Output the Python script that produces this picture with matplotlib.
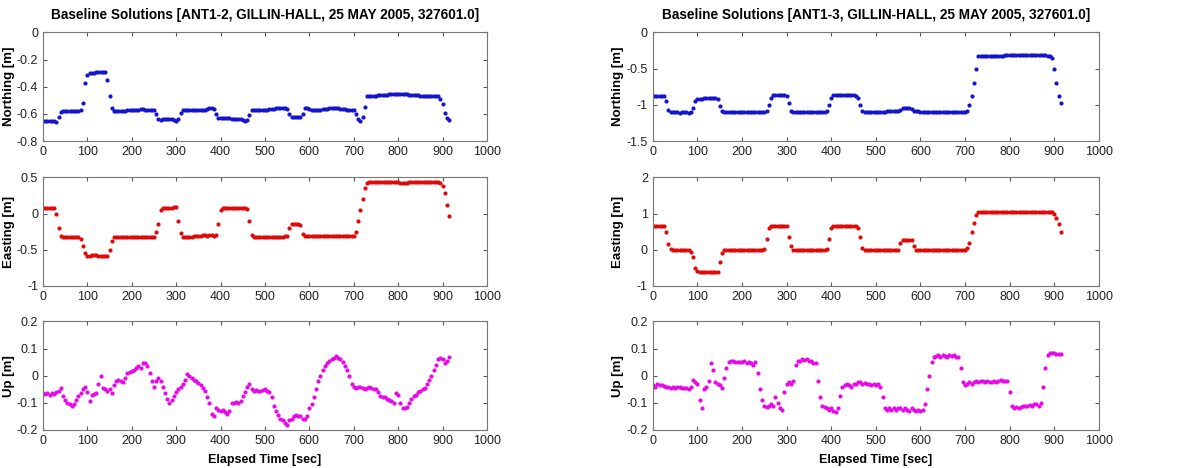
import numpy as np
import matplotlib
matplotlib.use("Agg")
import matplotlib.pyplot as plt

plt.rcParams['font.family'] = ['Liberation Sans', 'DejaVu Sans']

# elapsed time, one reading every 5 seconds
t = np.arange(0, 920, 5)

# ANT1-2 baseline
north_12 = [
    -0.65, -0.65, -0.655, -0.655, -0.65, -0.655, -0.66, -0.62, -0.585, -0.58,
    -0.58, -0.58, -0.578, -0.578, -0.578, -0.576, -0.578, -0.57, -0.52, -0.37,
    -0.31, -0.30, -0.30, -0.30, -0.295, -0.295, -0.29, -0.29, -0.295, -0.35,
    -0.47, -0.56, -0.58, -0.58, -0.58, -0.578, -0.578, -0.576, -0.575, -0.575,
    -0.575, -0.572, -0.572, -0.57, -0.565, -0.565, -0.568, -0.57, -0.57, -0.57,
    -0.575, -0.60, -0.635, -0.645, -0.64, -0.64, -0.64, -0.64, -0.64, -0.645,
    -0.65, -0.64, -0.595, -0.575, -0.57, -0.57, -0.57, -0.57, -0.572, -0.57,
    -0.572, -0.57, -0.57, -0.57, -0.565, -0.56, -0.56, -0.565, -0.60, -0.63,
    -0.632, -0.632, -0.632, -0.632, -0.632, -0.635, -0.635, -0.635, -0.64, -0.64,
    -0.645, -0.65, -0.645, -0.61, -0.575, -0.572, -0.572, -0.572, -0.572, -0.57,
    -0.57, -0.568, -0.565, -0.565, -0.562, -0.56, -0.56, -0.56, -0.56, -0.56,
    -0.565, -0.60, -0.62, -0.62, -0.62, -0.62, -0.622, -0.60, -0.56, -0.56,
    -0.565, -0.568, -0.57, -0.57, -0.57, -0.568, -0.565, -0.565, -0.565, -0.56,
    -0.56, -0.558, -0.558, -0.56, -0.562, -0.565, -0.565, -0.568, -0.57, -0.57,
    -0.575, -0.60, -0.64, -0.655, -0.62, -0.55, -0.47, -0.465, -0.465, -0.465,
    -0.465, -0.462, -0.462, -0.46, -0.46, -0.458, -0.455, -0.455, -0.455, -0.453,
    -0.452, -0.45, -0.45, -0.452, -0.455, -0.458, -0.46, -0.462, -0.462, -0.463,
    -0.465, -0.465, -0.467, -0.468, -0.47, -0.47, -0.47, -0.472, -0.47, -0.49,
    -0.53, -0.59, -0.63, -0.645,
]
east_12 = [
    0.08, 0.08, 0.08, 0.075, 0.08, 0.078, 0.0, -0.2, -0.31, -0.32,
    -0.32, -0.32, -0.32, -0.318, -0.32, -0.32, -0.32, -0.35, -0.45, -0.55,
    -0.58, -0.58, -0.57, -0.57, -0.575, -0.58, -0.58, -0.585, -0.59, -0.58,
    -0.5, -0.38, -0.32, -0.32, -0.32, -0.32, -0.32, -0.32, -0.32, -0.32,
    -0.32, -0.32, -0.32, -0.32, -0.32, -0.32, -0.32, -0.32, -0.32, -0.32,
    -0.32, -0.25, -0.15, 0.05, 0.08, 0.075, 0.07, 0.075, 0.08, 0.085,
    0.09, -0.1, -0.27, -0.32, -0.32, -0.32, -0.32, -0.32, -0.315, -0.31,
    -0.31, -0.305, -0.30, -0.30, -0.305, -0.30, -0.30, -0.305, -0.30, -0.15,
    0.05, 0.08, 0.08, 0.08, 0.08, 0.08, 0.08, 0.08, 0.08, 0.078,
    0.075, 0.07, 0.06, -0.1, -0.3, -0.32, -0.32, -0.32, -0.32, -0.32,
    -0.32, -0.32, -0.32, -0.32, -0.32, -0.32, -0.32, -0.32, -0.32, -0.31,
    -0.31, -0.2, -0.15, -0.15, -0.15, -0.15, -0.16, -0.28, -0.31, -0.31,
    -0.31, -0.31, -0.31, -0.31, -0.31, -0.31, -0.31, -0.31, -0.31, -0.31,
    -0.31, -0.31, -0.31, -0.31, -0.31, -0.31, -0.31, -0.31, -0.31, -0.31,
    -0.31, -0.25, -0.1, 0.05, 0.2, 0.35, 0.42, 0.43, 0.43, 0.43,
    0.43, 0.43, 0.43, 0.43, 0.43, 0.435, 0.435, 0.435, 0.435, 0.44,
    0.43, 0.425, 0.42, 0.42, 0.425, 0.43, 0.43, 0.43, 0.435, 0.435,
    0.435, 0.435, 0.44, 0.44, 0.44, 0.44, 0.435, 0.435, 0.43, 0.42,
    0.38, 0.28, 0.12, -0.03,
]
up_12 = [
    -0.065, -0.068, -0.064, -0.07, -0.062, -0.068, -0.06, -0.055, -0.045, -0.075,
    -0.09, -0.10, -0.105, -0.11, -0.105, -0.09, -0.075, -0.065, -0.05, -0.042,
    -0.06, -0.095, -0.07, -0.068, -0.062, -0.03, 0.0, -0.045, -0.05, -0.055,
    -0.05, -0.065, -0.035, -0.018, -0.015, -0.02, -0.025, -0.01, 0.01, 0.015,
    0.018, 0.02, 0.028, 0.035, 0.03, 0.045, 0.048, 0.035, 0.01, -0.02,
    -0.04, -0.02, -0.008, -0.02, -0.04, -0.065, -0.085, -0.1, -0.09, -0.075,
    -0.06, -0.05, -0.04, -0.03, -0.015, 0.005, 0.0, -0.008, -0.015, -0.02,
    -0.028, -0.035, -0.045, -0.055, -0.08, -0.1, -0.14, -0.15, -0.12, -0.125,
    -0.13, -0.128, -0.135, -0.14, -0.13, -0.1, -0.1, -0.098, -0.1, -0.095,
    -0.075, -0.06, -0.04, -0.03, -0.05, -0.055, -0.052, -0.058, -0.055, -0.052,
    -0.05, -0.055, -0.06, -0.08, -0.11, -0.13, -0.145, -0.16, -0.165, -0.175,
    -0.18, -0.165, -0.16, -0.15, -0.145, -0.148, -0.15, -0.158, -0.16, -0.15,
    -0.12, -0.105, -0.08, -0.05, -0.02, 0.0, 0.02, 0.035, 0.045, 0.055,
    0.06, 0.065, 0.072, 0.065, 0.063, 0.05, 0.035, 0.02, 0.0, -0.03,
    -0.04, -0.045, -0.04, -0.04, -0.045, -0.05, -0.045, -0.04, -0.045, -0.05,
    -0.05, -0.06, -0.075, -0.08, -0.08, -0.085, -0.09, -0.095, -0.1, -0.065,
    -0.07, -0.1, -0.12, -0.118, -0.115, -0.1, -0.085, -0.075, -0.07, -0.06,
    -0.055, -0.05, -0.045, -0.03, -0.015, 0.0, 0.02, 0.04, 0.06, 0.065,
    0.06, 0.045, 0.055, 0.068,
]

# ANT1-3 baseline
north_13 = [
    -0.88, -0.88, -0.88, -0.88, -0.88, -0.885, -0.95, -1.07, -1.10, -1.105,
    -1.105, -1.105, -1.11, -1.105, -1.105, -1.105, -1.11, -1.1, -1.05, -0.95,
    -0.92, -0.915, -0.915, -0.91, -0.91, -0.905, -0.905, -0.9, -0.9, -0.92,
    -1.02, -1.09, -1.10, -1.10, -1.10, -1.10, -1.10, -1.10, -1.10, -1.10,
    -1.10, -1.10, -1.10, -1.10, -1.10, -1.10, -1.10, -1.10, -1.10, -1.10,
    -1.10, -1.08, -1.0, -0.9, -0.87, -0.865, -0.865, -0.87, -0.87, -0.87,
    -0.875, -0.98, -1.08, -1.10, -1.10, -1.10, -1.10, -1.10, -1.10, -1.10,
    -1.10, -1.10, -1.10, -1.10, -1.10, -1.10, -1.10, -1.10, -1.09, -1.0,
    -0.9, -0.87, -0.87, -0.87, -0.87, -0.87, -0.87, -0.87, -0.87, -0.87,
    -0.87, -0.875, -0.9, -1.0, -1.08, -1.10, -1.10, -1.10, -1.10, -1.10,
    -1.10, -1.10, -1.10, -1.095, -1.095, -1.09, -1.09, -1.09, -1.09, -1.09,
    -1.09, -1.07, -1.05, -1.05, -1.05, -1.05, -1.06, -1.08, -1.09, -1.09,
    -1.095, -1.10, -1.10, -1.10, -1.105, -1.10, -1.10, -1.10, -1.10, -1.10,
    -1.10, -1.10, -1.10, -1.10, -1.10, -1.10, -1.10, -1.10, -1.10, -1.10,
    -1.10, -1.08, -1.0, -0.88, -0.7, -0.5, -0.33, -0.32, -0.32, -0.32,
    -0.32, -0.32, -0.32, -0.32, -0.32, -0.32, -0.32, -0.32, -0.315, -0.315,
    -0.315, -0.31, -0.31, -0.31, -0.31, -0.31, -0.31, -0.31, -0.31, -0.31,
    -0.31, -0.31, -0.31, -0.31, -0.31, -0.31, -0.315, -0.32, -0.32, -0.35,
    -0.5, -0.7, -0.88, -0.98,
]
east_13 = [
    0.65, 0.65, 0.65, 0.65, 0.65, 0.65, 0.5, 0.15, 0.01, 0.0,
    0.0, 0.0, 0.0, 0.0, 0.0, 0.0, 0.0, -0.05, -0.2, -0.5,
    -0.6, -0.62, -0.62, -0.62, -0.62, -0.62, -0.62, -0.62, -0.62, -0.62,
    -0.35, -0.1, 0.0, 0.0, 0.0, 0.0, 0.0, 0.0, 0.0, 0.0,
    0.0, 0.0, 0.0, 0.0, 0.0, 0.0, 0.0, 0.0, 0.0, 0.0,
    0.02, 0.3, 0.6, 0.65, 0.65, 0.65, 0.65, 0.65, 0.65, 0.65,
    0.65, 0.35, 0.1, 0.0, 0.0, 0.0, 0.0, 0.0, 0.0, 0.0,
    0.0, 0.0, 0.0, 0.0, 0.0, 0.0, 0.0, 0.0, 0.02, 0.3,
    0.6, 0.65, 0.65, 0.65, 0.66, 0.66, 0.66, 0.665, 0.665, 0.67,
    0.67, 0.67, 0.6, 0.35, 0.05, 0.0, 0.0, 0.0, 0.0, 0.0,
    0.0, 0.0, 0.0, 0.0, 0.0, 0.0, 0.0, 0.0, 0.0, 0.0,
    0.0, 0.2, 0.28, 0.28, 0.28, 0.28, 0.28, 0.1, 0.0, 0.0,
    0.0, 0.0, 0.0, 0.0, 0.0, 0.0, 0.0, 0.0, 0.0, 0.0,
    0.0, 0.0, 0.0, 0.0, 0.0, 0.0, 0.0, 0.0, 0.0, 0.0,
    0.0, 0.05, 0.2, 0.5, 0.75, 0.95, 1.04, 1.05, 1.05, 1.05,
    1.05, 1.05, 1.05, 1.05, 1.05, 1.05, 1.05, 1.05, 1.05, 1.05,
    1.05, 1.045, 1.04, 1.04, 1.04, 1.04, 1.04, 1.04, 1.04, 1.04,
    1.04, 1.04, 1.045, 1.05, 1.05, 1.05, 1.05, 1.05, 1.05, 1.04,
    1.0, 0.88, 0.7, 0.5,
]
up_13 = [
    -0.035, -0.04, -0.03, -0.035, -0.035, -0.038, -0.04, -0.042, -0.045, -0.04,
    -0.045, -0.04, -0.042, -0.045, -0.045, -0.045, -0.048, -0.042, -0.015, -0.025,
    -0.03, -0.09, -0.12, -0.05, -0.04, -0.02, 0.045, 0.02, -0.025, -0.03,
    -0.035, -0.045, -0.01, 0.03, 0.05, 0.055, 0.055, 0.05, 0.052, 0.05,
    0.05, 0.055, 0.048, 0.05, 0.048, 0.04, 0.05, 0.01, -0.05, -0.09,
    -0.11, -0.115, -0.11, -0.105, -0.11, -0.08, -0.1, -0.12, -0.125, -0.06,
    -0.03, -0.025, -0.03, -0.02, 0.04, 0.055, 0.055, 0.06, 0.058, 0.062,
    0.055, 0.055, 0.048, 0.045, -0.02, -0.08, -0.11, -0.115, -0.12, -0.125,
    -0.12, -0.13, -0.135, -0.12, -0.075, -0.04, -0.035, -0.03, -0.035, -0.04,
    -0.03, -0.03, -0.025, -0.025, -0.03, -0.028, -0.03, -0.03, -0.035, -0.03,
    -0.035, -0.03, -0.04, -0.08, -0.12, -0.125, -0.12, -0.125, -0.12, -0.125,
    -0.118, -0.12, -0.125, -0.12, -0.125, -0.13, -0.12, -0.125, -0.13, -0.125,
    -0.13, -0.125, -0.105, -0.05, 0.0, 0.05, 0.07, 0.072, 0.075, 0.07,
    0.075, 0.072, 0.07, 0.075, 0.072, 0.078, 0.07, 0.068, 0.03, -0.025,
    -0.035, -0.03, -0.025, -0.03, -0.025, -0.02, -0.025, -0.018, -0.02, -0.025,
    -0.02, -0.025, -0.022, -0.02, -0.025, -0.02, -0.015, -0.02, -0.02, -0.018,
    -0.06, -0.11, -0.118, -0.115, -0.118, -0.115, -0.112, -0.112, -0.11, -0.108,
    -0.11, -0.105, -0.105, -0.11, -0.1, -0.04, 0.03, 0.075, 0.085, 0.085,
    0.082, 0.08, 0.08, 0.08,
]

titles = ['Baseline Solutions [ANT1-2, GILLIN-HALL, 25 MAY 2005, 327601.0]',
          'Baseline Solutions [ANT1-3, GILLIN-HALL, 25 MAY 2005, 327601.0]']
ylabels = ['Northing [m]', 'Easting [m]', 'Up [m]']
colors = ['#1414cc', '#dd0a0a', '#e60ae6']
ylims_12 = [(-0.8, 0), (-1, 0.5), (-0.2, 0.2)]
ylims_13 = [(-1.5, 0), (-1, 2), (-0.2, 0.2)]
yticks_12 = [[-0.8, -0.6, -0.4, -0.2, 0], [-1, -0.5, 0, 0.5], [-0.2, -0.1, 0, 0.1, 0.2]]
yticks_13 = [[-1.5, -1, -0.5, 0], [-1, 0, 1, 2], [-0.2, -0.1, 0, 0.1, 0.2]]

fig = plt.figure(figsize=(11.87, 4.68), dpi=100)

lefts = [0.0362, 0.550]
widths = [0.374, 0.3757]
bottoms = [0.6987, 0.389, 0.0812]
height = 0.232

columns = [
    ([north_12, east_12, up_12], ylims_12, yticks_12),
    ([north_13, east_13, up_13], ylims_13, yticks_13),
]

for c, (series, ylims, yticks) in enumerate(columns):
    for r in range(3):
        ax = fig.add_axes([lefts[c], bottoms[r], widths[c], height])
        ax.plot(t, series[r], ls='none', marker='o', ms=3.0, mew=0, color=colors[r])
        ax.set_xlim(0, 1000)
        ax.set_ylim(*ylims[r])
        ax.set_xticks(np.arange(0, 1001, 100))
        ax.set_yticks(yticks[r])
        ax.set_yticklabels([('%g' % v) for v in yticks[r]])
        ax.tick_params(direction='in', top=True, right=True, length=3,
                       labelsize=9, colors='#555555', labelcolor='#222222')
        for s in ax.spines.values():
            s.set_color('#777777')
            s.set_linewidth(0.8)
        ax.set_ylabel(ylabels[r], fontsize=9.5, fontweight='bold')
        ax.yaxis.set_label_coords(-0.064, 0.5)
        if r == 0:
            ax.set_title(titles[c], fontsize=9.8, fontweight='bold', pad=10)
        if r == 2:
            ax.set_xlabel('Elapsed Time [sec]', fontsize=9, fontweight='bold', labelpad=5)

fig.savefig('out.png', dpi=100)
